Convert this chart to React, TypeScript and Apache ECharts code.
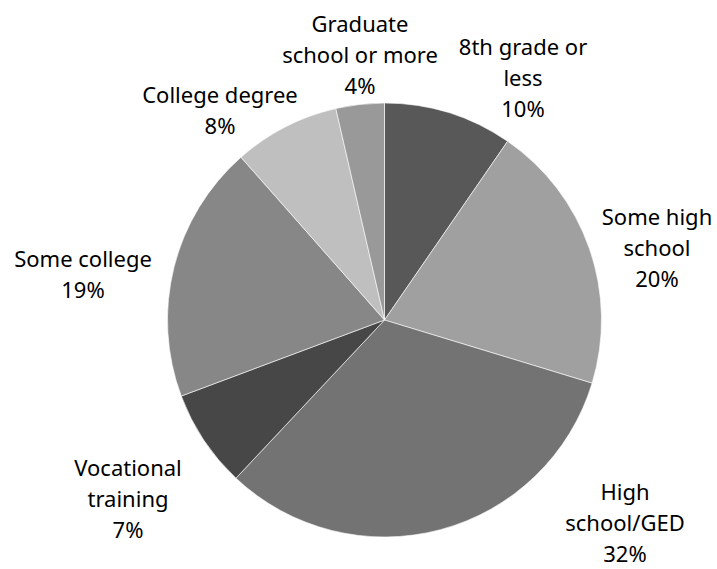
import React, { useEffect, useRef } from "react";
import * as echarts from "echarts";

const categories = [
  "8th grade or\nless",
  "Some high\nschool",
  "High\nschool/GED",
  "Vocational\ntraining",
  "Some college",
  "College degree",
  "Graduate\nschool or more",
];
const values = [9.6, 20.1, 32.3, 7.3, 19.2, 7.9, 3.6];
const colors = ["#585858", "#a0a0a0", "#737373", "#474747", "#878787", "#bfbfbf", "#999999"];
const labelPos = [
  [523, 77],
  [657, 247],
  [625, 522],
  [128, 498],
  [83, 273],
  [220, 109],
  [360, 54],
];

export default function App() {
  const ref = useRef<HTMLDivElement>(null);
  useEffect(() => {
    if (!ref.current) return;
    const chart = echarts.init(ref.current, null, { renderer: "svg" });
    chart.setOption({
      animation: false,
      backgroundColor: "#ffffff",
      series: [
        {
          type: "pie",
          center: [384.5, 320],
          radius: 217,
          startAngle: 90,
          clockwise: true,
          percentPrecision: 0,
          data: categories.map((c, i) => ({
            name: c,
            value: values[i],
            itemStyle: { color: colors[i] },
          })),
          itemStyle: { borderColor: "#ffffff", borderWidth: 0.6 },
          label: {
            show: true,
            position: "outside",
            formatter: "{b}\n{d}%",
            fontFamily: "Noto Sans",
            fontSize: 22,
            lineHeight: 31,
            color: "#000000",
            align: "center",
            overflow: "none",
          },
          labelLine: { show: false },
          labelLayout: (p: any) => ({
            x: labelPos[p.dataIndex][0],
            y: labelPos[p.dataIndex][1],
            align: "center",
            verticalAlign: "middle",
          }),
          emphasis: { disabled: true },
        },
      ],
    });
    return () => chart.dispose();
  }, []);
  return (
    <div
      ref={ref}
      style={{ position: "fixed", left: 0, top: 0, width: 717, height: 569 }}
    />
  );
}
